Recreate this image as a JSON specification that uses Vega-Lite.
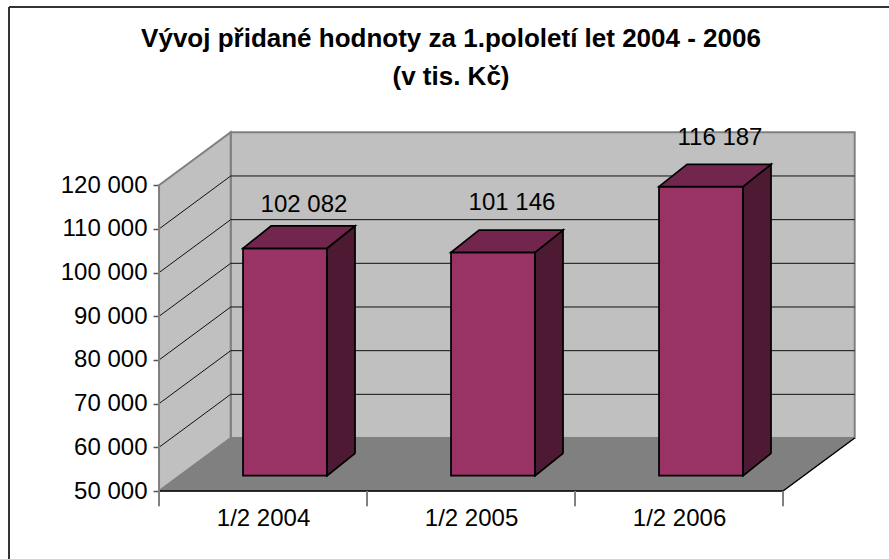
{
"$schema":"https://vega.github.io/schema/vega-lite/v6.json",
"width":880,"height":552,
"autosize":"none",
"padding":{"left":9,"top":7,"right":0,"bottom":0},
"background":"white",
"view":{"stroke":null},
"config":{"font":"Liberation Sans"},
"title":{"text":["Vývoj přidané hodnoty za 1.pololetí let 2004 - 2006","(v tis. Kč)"],"font":"Liberation Sans","fontSize":26,"fontWeight":"bold","color":"#000","anchor":"middle","frame":"group","dx":2,"offset":-110,"lineHeight":38,"baseline":"bottom"},
"datasets":{
"bars":[{"period":"1/2 2004","idx":0,"value":102082},{"period":"1/2 2005","idx":1,"value":101146},{"period":"1/2 2006","idx":2,"value":116187}],
"ticks":[{"v":60000},{"v":70000},{"v":80000},{"v":90000},{"v":100000},{"v":110000}]
},
"encoding":{
"x":{"field":"x","type":"quantitative","scale":{"domain":[-0.7212,3.5096],"nice":false,"zero":false},"axis":{"orient":"bottom","offset":-68,"values":[0.5,1.5,2.5],"labelExpr":"'1/2 ' + (2004 + floor(datum.value))","tickSize":0,"domain":false,"grid":false,"title":null,"labelPadding":15,"labelColor":"#000","labelFontSize":24,"labelFont":"Liberation Sans"}},
"y":{"field":"y","type":"quantitative","scale":{"domain":[34429,160831],"nice":false,"zero":false},"axis":{"orient":"left","offset":-150,"values":[50000,60000,70000,80000,90000,100000,110000,120000],"labelExpr":"replace(format(datum.value,','),',',' ')","tickSize":6,"tickColor":"#555","tickWidth":1.5,"domain":false,"grid":false,"title":null,"labelPadding":6,"labelColor":"#000","labelFontSize":24,"labelFont":"Liberation Sans"}},
"x2":{"field":"x2"},
"y2":{"field":"y2"}
},
"layer":[
{"data":{"values":[{"x":0.3447,"x2":3.3447,"y":62136,"y2":132136}]},"mark":{"type":"rect","fill":"#C0C0C0","stroke":"#808080","strokeWidth":2}},
{"data":{"values":[{"x":0,"y":50000,"y2":120000},{"x":0.3447,"y":62136,"y2":132136}]},"mark":{"type":"area","orient":"vertical","fill":"#C0C0C0","stroke":"#808080","strokeWidth":2},"encoding":{"x2":null}},
{"data":{"values":[{"y":50000,"x":0,"x2":3},{"y":62136,"x":0.3447,"x2":3.3447}]},"mark":{"type":"area","orient":"horizontal","fill":"#808080","stroke":"#808080","strokeWidth":1},"encoding":{"y2":null}},
{"data":{"name":"ticks"},
 "transform":[{"calculate":"0","as":"x"},{"calculate":"0.3447","as":"x2"},{"calculate":"datum.v","as":"y"},{"calculate":"datum.v+12136","as":"y2"}],
 "mark":{"type":"rule","stroke":"#111111","strokeWidth":1}},
{"data":{"name":"ticks"},
 "transform":[{"calculate":"0.3447","as":"x"},{"calculate":"3.3447","as":"x2"},{"calculate":"datum.v+12136","as":"y"},{"calculate":"datum.v+12136","as":"y2"}],
 "mark":{"type":"rule","stroke":"#111111","strokeWidth":1}},
{"data":{"values":[{"x":0,"x2":3,"y":50000,"y2":50000},{"x":3,"x2":3.3447,"y":50000,"y2":62136}]},"mark":{"type":"rule","stroke":"#000","strokeWidth":1.5}},
{"data":{"values":[{"x":0,"x2":0,"y":50000,"y2":120000},{"x":0,"x2":0,"y":50000,"y2":46500},{"x":1,"x2":1,"y":50000,"y2":46500},{"x":2,"x2":2,"y":50000,"y2":46500},{"x":3,"x2":3,"y":50000,"y2":46500}]},"mark":{"type":"rule","stroke":"#808080","strokeWidth":2}},
{"data":{"values":[{"x":-0.7212,"x2":-0.7212,"y":34429,"y2":160831},{"x":-0.7212,"x2":3.5096,"y":160831,"y2":160831}]},"mark":{"type":"rule","stroke":"#333333","strokeWidth":2}},
{"data":{"name":"bars"},"transform":[{"calculate":"datum.idx+0.5+0.1058-0.2019","as":"x"},{"calculate":"datum.idx+0.5+0.1058+0.2019","as":"x2"},{"calculate":"53500","as":"y"},{"calculate":"datum.value+3500","as":"y2"}],
 "mark":{"type":"rect","fill":"#993366","stroke":"#000","strokeWidth":1.75}},
{"data":{"name":"bars"},"transform":[{"calculate":"[0,1]","as":"t"},{"flatten":["t"]},{"calculate":"datum.idx+0.5+0.1058+0.2019+datum.t*0.1346","as":"x"},{"calculate":"53500+datum.t*5106","as":"y"},{"calculate":"datum.value+3500+datum.t*5106","as":"y2"}],
 "mark":{"type":"area","orient":"vertical","fill":"#4D1933","stroke":"#000","strokeWidth":1.75},"encoding":{"x2":null,"detail":{"field":"idx"}}},
{"data":{"name":"bars"},"transform":[{"calculate":"[0,1]","as":"t"},{"flatten":["t"]},{"calculate":"datum.idx+0.5+0.1058-0.2019+datum.t*0.1346","as":"x"},{"calculate":"datum.idx+0.5+0.1058+0.2019+datum.t*0.1346","as":"x2"},{"calculate":"datum.value+3500+datum.t*5106","as":"y"}],
 "mark":{"type":"area","orient":"horizontal","fill":"#73264D","stroke":"#000","strokeWidth":1.75},"encoding":{"y2":null,"detail":{"field":"idx"}}},
{"data":{"name":"bars"},"transform":[{"calculate":"datum.idx+0.697","as":"x"},{"calculate":"datum.value+[13419,14770,14541][datum.idx]","as":"y"},{"calculate":"replace(format(datum.value,','),',',' ')","as":"label"}],
 "mark":{"type":"text","fontSize":24,"font":"Liberation Sans","color":"#000","baseline":"middle","align":"center"},"encoding":{"x2":null,"y2":null,"text":{"field":"label"}}}
]
}
